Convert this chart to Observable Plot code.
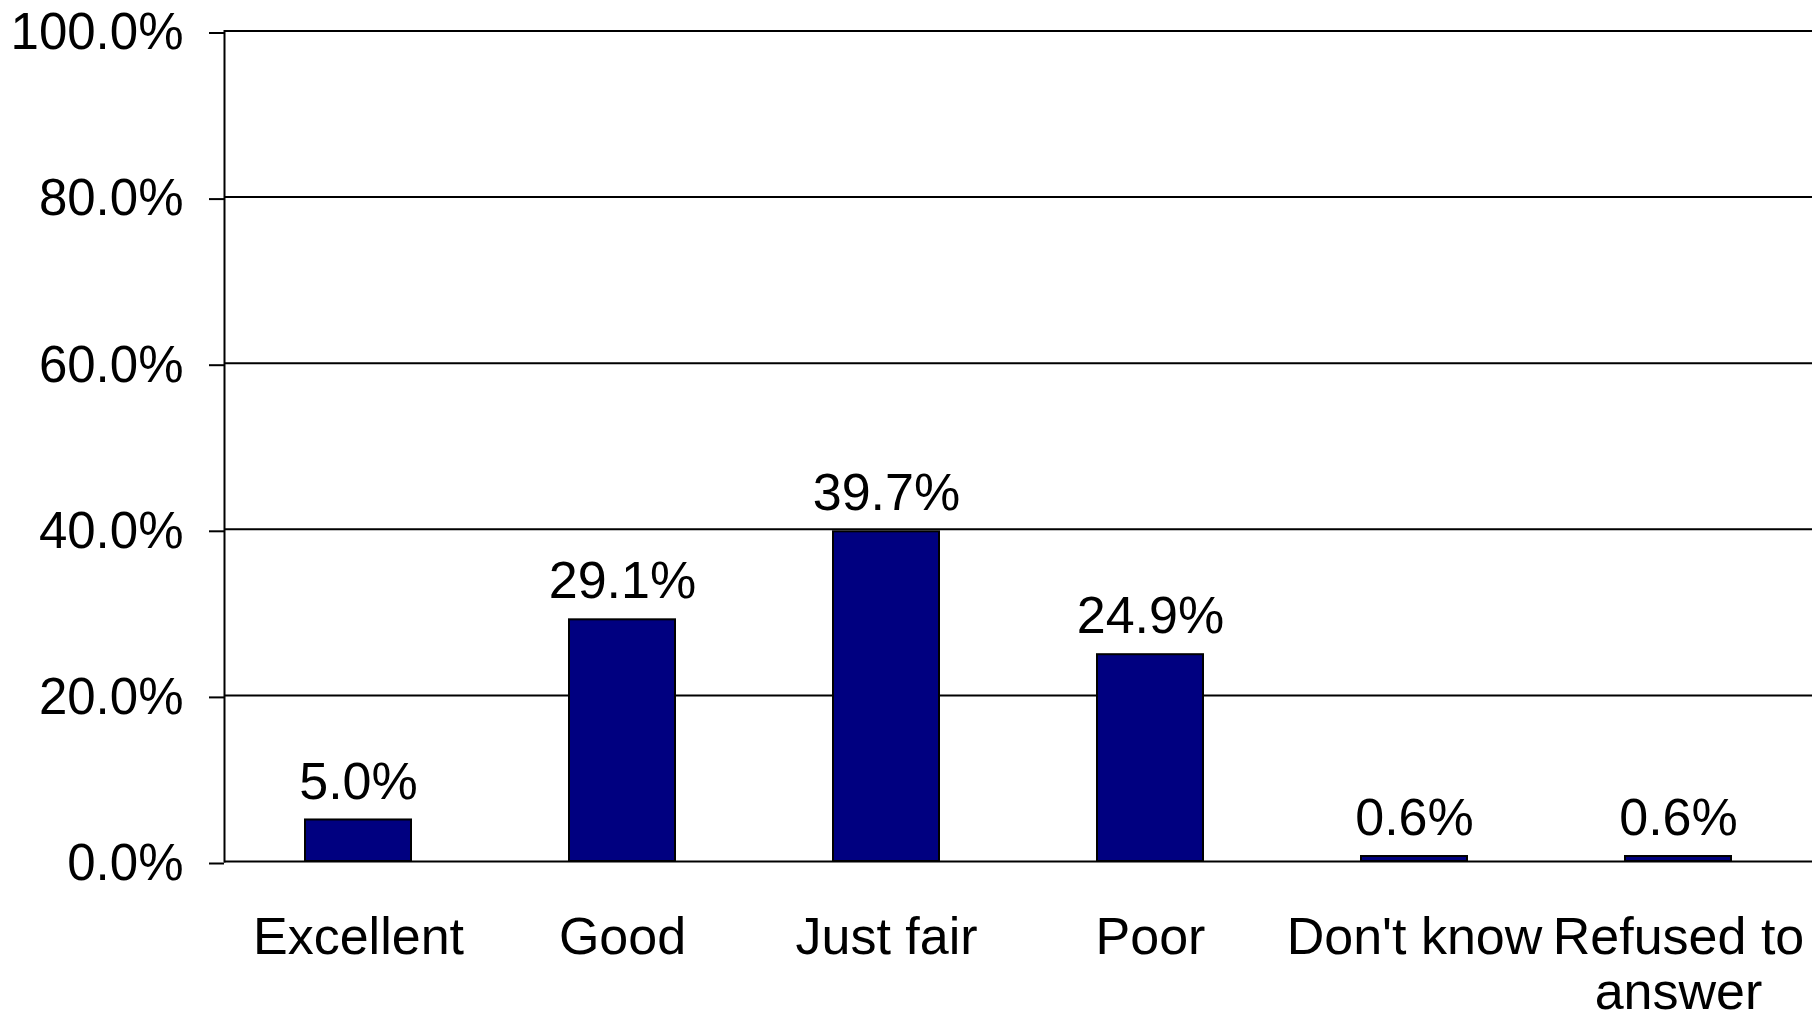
<!DOCTYPE html>
<html>
<head>
<meta charset="utf-8">
<script src="https://cdn.jsdelivr.net/npm/d3@7"></script>
<script src="https://cdn.jsdelivr.net/npm/@observablehq/plot@0.6"></script>
<style>
  html, body { margin: 0; padding: 0; background: #fff; overflow: hidden; }
  #chart svg { display: block; }
</style>
</head>
<body>
<div id="chart"></div>
<script>
const categories = ["Excellent", "Good", "Just fair", "Poor", "Don't know", "Refused to answer"];
const values = [5.0, 29.1, 39.7, 24.9, 0.6, 0.6];
const tickLabels = ["Excellent", "Good", "Just fair", "Poor", "Don't know", "Refused to\nanswer"];
const yTicks = [0, 20, 40, 60, 80, 100];

const data = categories.map((c, i) => ({cat: c, value: values[i]}));
const labelOf = new Map(categories.map((c, i) => [c, tickLabels[i]]));
const FONT = "'Liberation Sans', Arial, Helvetica, sans-serif";

const chart = Plot.plot({
  width: 1812,
  height: 1021,
  marginLeft: 224,
  marginRight: 0,
  marginTop: 30.5,
  marginBottom: 160,
  style: {fontFamily: FONT, fontSize: "51px", background: "white", color: "black"},
  x: {domain: categories, paddingInner: 0.6, paddingOuter: 0.3, label: null},
  y: {domain: [0, 100], ticks: yTicks, label: null},
  marks: [
    Plot.ruleY(yTicks, {stroke: "black", strokeWidth: 2}),
    Plot.axisY({ticks: yTicks, tickSize: 15, tickPadding: 26, strokeWidth: 2,
      tickFormat: d => d.toFixed(1) + "%", fontSize: 51, dy: 2, label: null}),
    Plot.frame({anchor: "left", stroke: "black", strokeWidth: 2}),
    Plot.barY(data, {x: "cat", y: "value", fill: "#000080", stroke: "black", strokeWidth: 2}),
    Plot.text(data, {x: "cat", y: "value", text: d => d.value.toFixed(1) + "%",
      dy: -38, fontSize: 52, fill: "black"}),
    Plot.axisX({tickSize: 0, tickPadding: 53, tickFormat: d => labelOf.get(d),
      fontSize: 52, lineHeight: 1.06, label: null})
  ]
});
document.getElementById("chart").appendChild(chart);
</script>
</body>
</html>
